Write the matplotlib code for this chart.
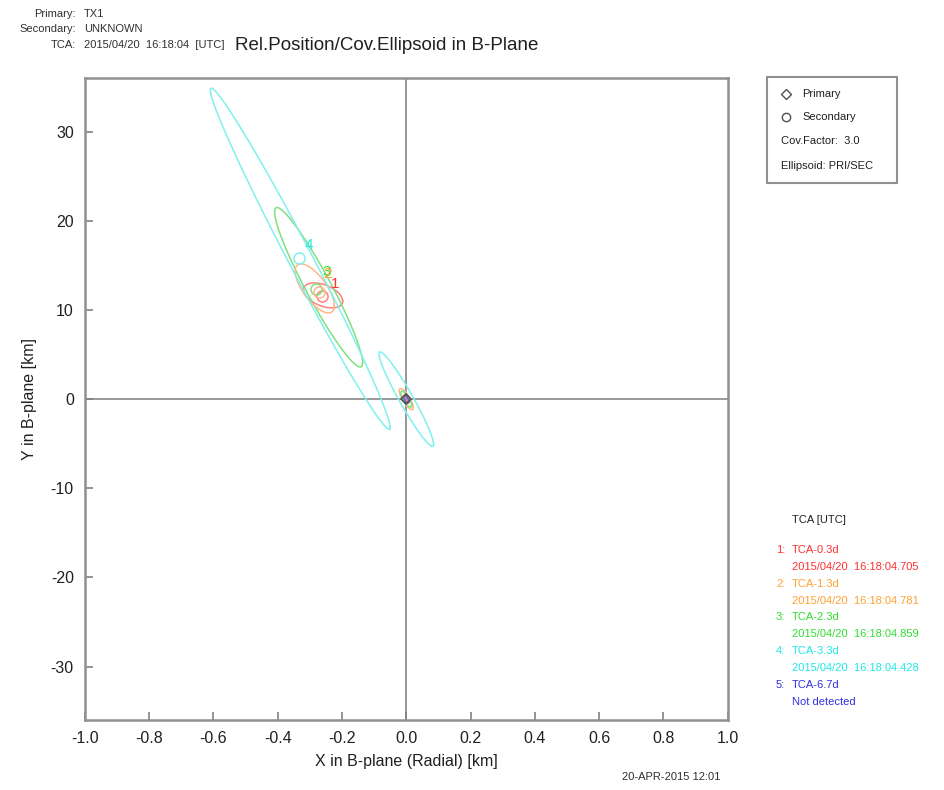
import numpy as np
import matplotlib
matplotlib.use('Agg')
from matplotlib import pyplot as plt

plt.rcParams['font.family'] = ['Liberation Sans', 'DejaVu Sans']
plt.rcParams['axes.unicode_minus'] = False

# secondary positions / covariance ellipses (3-sigma bbox half widths + correlation)
labels = ['1', '3', '2', '4']
colors = ['#ff3030', '#30dd30', '#ffa030', '#20e8e8']
ell_colors = ['#ff8080', '#80e080', '#ffb888', '#80f0f0']
sec_x = [-0.261, -0.280, -0.272, -0.335]
sec_y = [11.55, 12.41, 12.0, 15.84]
sec_cx = [-0.259, -0.273, -0.285, -0.330]
sec_cy = [11.64, 12.55, 12.42, 15.75]
sec_ax = [0.061, 0.137, 0.061, 0.280]
sec_ay = [1.40, 8.95, 2.75, 19.15]
sec_rho = [-0.45, -0.946, -0.70, -0.9887]
lab_x = [-0.222, -0.2465, -0.2445, -0.304]
lab_y = [12.95, 14.25, 14.05, 17.3]

# primary ellipses at the origin
pri_colors = ['#ff8080', '#ffb888', '#80e080', '#80f0f0', '#6060e0']
pri_ax = [0.006, 0.022, 0.0166, 0.085, 0.008]
pri_ay = [0.30, 1.18, 0.90, 5.30, 0.45]
pri_rho = [-0.6, -0.8, -0.8, -0.957, -0.6]

tca_names = ['TCA-0.3d', 'TCA-1.3d', 'TCA-2.3d', 'TCA-3.3d', 'TCA-6.7d']
tca_times = ['2015/04/20  16:18:04.705', '2015/04/20  16:18:04.781',
             '2015/04/20  16:18:04.859', '2015/04/20  16:18:04.428', 'Not detected']
tca_colors = ['#ff3030', '#ffa030', '#30dd30', '#20e8e8', '#3030e0']

xticks = [-1.0, -0.8, -0.6, -0.4, -0.2, 0.0, 0.2, 0.4, 0.6, 0.8, 1.0]
yticks = [-30, -20, -10, 0, 10, 20, 30]


def ellipse(cx, cy, ax, ay, rho):
    t = np.linspace(0, 2*np.pi, 300)
    x = cx + ax*np.cos(t)
    y = cy + ay*(rho*np.cos(t) + np.sqrt(1 - rho**2)*np.sin(t))
    return x, y


fig = plt.figure(figsize=(9.45, 7.9), dpi=100)
ax = fig.add_axes([0.0899, 0.0886, 0.6801, 0.8123])

ax.axhline(0, color='#909090', lw=1.3, zorder=1)
ax.axvline(0, color='#909090', lw=1.3, zorder=1)

for i in range(len(pri_ax)):
    x, y = ellipse(0, 0, pri_ax[i], pri_ay[i], pri_rho[i])
    ax.plot(x, y, color=pri_colors[i], lw=1.1, zorder=2)

for i in range(len(labels)):
    x, y = ellipse(sec_cx[i], sec_cy[i], sec_ax[i], sec_ay[i], sec_rho[i])
    ax.plot(x, y, color=ell_colors[i], lw=1.1, zorder=2)
    ax.plot(sec_x[i], sec_y[i], 'o', mfc='none', mec=ell_colors[i], ms=8, mew=1.1, zorder=3)
    ax.text(lab_x[i], lab_y[i], labels[i], color=colors[i], fontsize=11,
            ha='center', va='center', zorder=4 + i)

ax.plot(0, 0, 'D', mfc='none', mec='#505050', ms=5, mew=1.2, zorder=4)

ax.set_xlim(-1, 1)
ax.set_ylim(-36, 36)
ax.set_xticks(xticks)
ax.set_xticklabels(['%.1f' % v for v in xticks])
ax.set_yticks(yticks)
ax.tick_params(direction='in', length=6, width=1.2, color='#808080',
               labelsize=11.5, pad=8, labelcolor='#202020')
for s in ax.spines.values():
    s.set_color('#909090')
    s.set_linewidth(1.8)
ax.set_xlabel('X in B-plane (Radial) [km]', fontsize=11.5, color='#202020', labelpad=6)
ax.set_ylabel('Y in B-plane [km]', fontsize=11.5, color='#202020', labelpad=10)

# header
hy = [14, 29, 45]
hk = ['Primary:', 'Secondary:', 'TCA:']
hv = ['TX1', 'UNKNOWN', '2015/04/20  16:18:04  [UTC]']
for k, v, yy in zip(hk, hv, hy):
    fig.text(76/945, 1 - yy/790, k, ha='right', va='center', fontsize=8, color='#303030')
    fig.text(84/945, 1 - yy/790, v, ha='left', va='center', fontsize=8, color='#303030')
fig.text(235/945, 1 - 46/790, 'Rel.Position/Cov.Ellipsoid in B-Plane', ha='left',
         va='center', fontsize=13.5, color='#202020')

# legend box
box = plt.Rectangle((767/945, 1 - 183/790), 130/945, 106/790, transform=fig.transFigure,
                    fill=False, ec='#909090', lw=1.5)
fig.add_artist(box)
fig.lines.append(plt.Line2D([786/945], [1 - 94/790], marker='D', ms=5, mfc='none',
                            mec='#505050', transform=fig.transFigure))
fig.lines.append(plt.Line2D([786/945], [1 - 117/790], marker='o', ms=6, mfc='none',
                            mec='#505050', transform=fig.transFigure))
fig.text(802/945, 1 - 94/790, 'Primary', va='center', fontsize=8, color='#202020')
fig.text(802/945, 1 - 117/790, 'Secondary', va='center', fontsize=8, color='#202020')
fig.text(781/945, 1 - 141/790, 'Cov.Factor:  3.0', va='center', fontsize=8, color='#202020')
fig.text(781/945, 1 - 166/790, 'Ellipsoid: PRI/SEC', va='center', fontsize=8, color='#202020')

# TCA list
fig.text(792/945, 1 - 520/790, 'TCA [UTC]', va='center', fontsize=8, color='#202020')
for i in range(len(tca_names)):
    y0 = 550 + i*33.7
    fig.text(776/945, 1 - y0/790, '%d:' % (i + 1), va='center', fontsize=8, color=tca_colors[i])
    fig.text(792/945, 1 - y0/790, tca_names[i], va='center', fontsize=8, color=tca_colors[i])
    fig.text(792/945, 1 - (y0 + 16.8)/790, tca_times[i], va='center', fontsize=8,
             color=tca_colors[i])

fig.text(622/945, 1 - 777/790, '20-APR-2015 12:01', va='center', fontsize=8, color='#303030')

fig.savefig('out.png', dpi=100)
